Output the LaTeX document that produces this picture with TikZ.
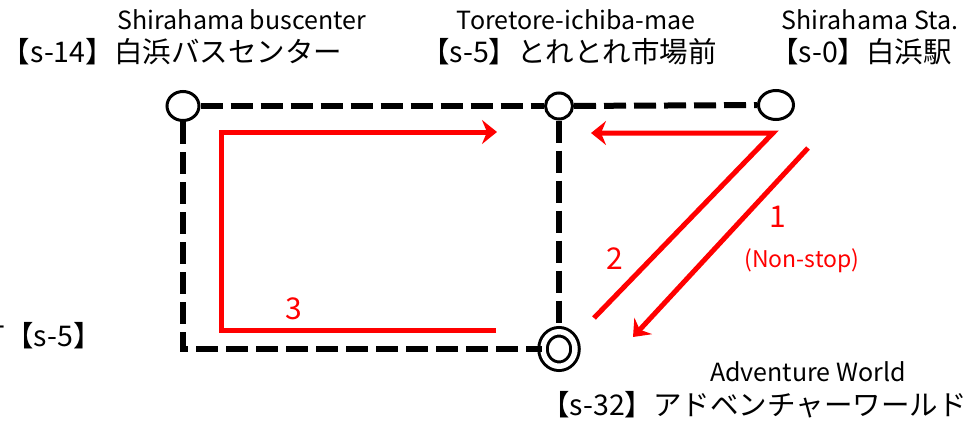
\documentclass[tikz,border=0pt]{standalone}
\usepackage{fontspec}
\setmainfont{Noto Sans CJK JP}
\usetikzlibrary{shapes.geometric}
\usetikzlibrary{arrows.meta}

\begin{document}
\begin{tikzpicture}[x=1pt, y=-1pt,
    every stop/.style={ellipse, draw, line width=3pt, fill=white, inner sep=0pt},
    every route/.style={dash pattern=on 22pt off 8pt, line width=6pt},
    every run/.style={draw=red, line width=5pt},
    every tip/.style={-{Stealth[length=15pt, width=24pt, inset=5pt]}},
    every en/.style={inner sep=0pt, font=\fontsize{25}{25}\selectfont},
    every jp/.style={inner sep=0pt, font=\fontsize{28.5}{28.5}\selectfont},
    every number/.style={inner sep=0pt, text=red, font=\fontsize{30}{30}\selectfont}]
\useasboundingbox (0,0) rectangle (966,423);

% stops
\node [every stop, minimum width=32pt, minimum height=29pt] (bc) at (183,106) {};
\node [every stop, minimum width=27pt, minimum height=26pt] (tt) at (559,106) {};
\node [every stop, minimum width=35pt, minimum height=29pt] (sta) at (776,105) {};
\node [every stop, minimum width=32pt, minimum height=34.5pt,
       double, double distance=5.5pt] (aw) at (559,349) {};

% bus line
\draw [every route] (bc) -- (tt);
\draw [every route] (tt) -- (sta);
\draw [every route] (tt) -- (aw);
\draw [every route] (bc) -- (bc |- aw) -- (aw);

% names
\node [every en] (bc-en) at (242,20) {Shirahama buscenter};
\node [every jp] (bc-jp) at (172,52) {【s-14】白浜バスセンター};
\node [every en] (tt-en) at (576,20) {Toretore-ichiba-mae};
\node [every jp] (tt-jp) at (569,52) {【s-5】とれとれ市場前};
\node [every en] (sta-en) at (870,20) {Shirahama Sta.};
\node [every jp] (sta-jp) at (861,52) {【s-0】白浜駅};
\node [every en] (aw-en) at (808,372) {Adventure World};
\node [every jp] (aw-jp) at (754,405) {【s-32】アドベンチャーワールド};
\node [every jp, anchor=east] (left-jp) at (102,336) {町【s-5】};

% runs
\coordinate (r1a) at (808,148);
\coordinate (r1b) at (633,337);
\coordinate (r2a) at (594,318);
\coordinate (r2b) at (773,133);
\coordinate (r2c) at (591,133);
\coordinate (r3a) at (496,330);
\coordinate (r3b) at (221,330);
\coordinate (r3c) at (221,132);
\coordinate (r3d) at (497,132);
\draw [every run, every tip] (r1a) -- (r1b);
\draw [every run, every tip] (r2a) -- (r2b) -- (r2c);
\draw [every run, every tip] (r3a) -- (r3b) -- (r3c) -- (r3d);

\foreach \n/\x/\y in {1/778/217, 2/615/259, 3/294/309}
    \node [every number] (num\n) at (\x,\y) {\n};
\node [every number, font=\fontsize{23}{23}\selectfont] (nonstop) at (802,261) {(Non-stop)};
\end{tikzpicture}
\end{document}
